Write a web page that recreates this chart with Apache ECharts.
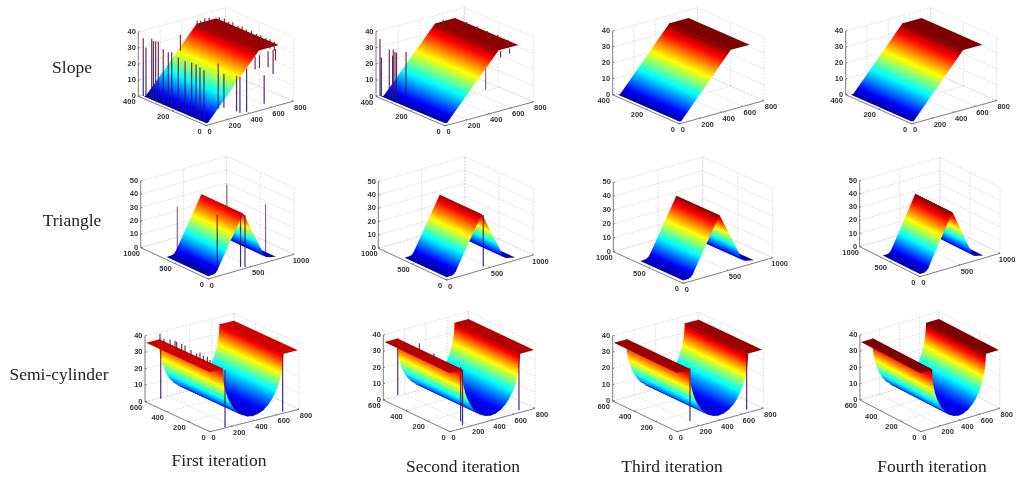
<!DOCTYPE html>
<html>
<head>
<meta charset="utf-8">
<style>
html,body{margin:0;padding:0;background:#fff;}
#chart{width:1026px;height:481px;filter:blur(0.45px);}
</style>
<script src="https://cdn.jsdelivr.net/npm/echarts@6/dist/echarts.min.js"></script>
</head>
<body>
<div id="chart"></div>
<script>
// ---------- values ----------
const rowNames = ['Slope', 'Triangle', 'Semi-cylinder'];
const iterationNames = ['First iteration', 'Second iteration', 'Third iteration', 'Fourth iteration'];

// surface profiles: height z along the x axis
const slopeX = [0, 20, 485, 665];
const slopeZ = [1.5, 1.5, 37.5, 37.5];
const triangleX = [0, 60, 85, 105, 395, 404, 415, 625, 650, 690, 790];
const triangleZ = [2, 2.2, 3, 4.5, 40.5, 41.5, 40.5, 10, 5.5, 3.5, 2];
const cylinderX = [0, 115, 117, 122, 130, 145, 165, 189, 219, 253, 293, 342, 387, 432, 481, 521, 555, 585, 609, 629, 644, 652, 657, 660, 790];
const cylinderZ = [36, 36, 32.1, 28.6, 25.2, 21, 17, 13.4, 10.1, 7.3, 5, 3.5, 3, 3.5, 5, 7.3, 10.1, 13.4, 17, 21, 25.2, 28.6, 32.1, 36, 36];

// extent of the surfaces along the y axis
const slopeY = [0, 368];
const triangleY = [0, 615];
const cylinderY = [0, 590];

// tick labels
const slopeXTicks = [0, 200, 400, 600, 800], slopeYTicks = [0, 200, 400], slopeZTicks = [0, 10, 20, 30, 40];
const triangleXTicks = [0, 500, 1000], triangleYTicks = [0, 500, 1000], triangleZTicks = [0, 10, 20, 30, 40, 50];
const cylinderXTicks = [0, 200, 400, 600, 800], cylinderYTicks = [0, 200, 400, 600], cylinderZTicks = [0, 10, 20, 30, 40];

// outliers: [x, y, zLow, zHigh]
const spikesSlope1 = [
  [30,390,0,36],[30,374,0,31],[30,340,0,38],[30,330,0,37],[30,317,0,37.5],[30,301,0,38],[30,272,0,34.5],
  [30,242,0,34],[30,222,0,35],[30,183,0,33.5],[30,143,0,33],[30,104,0,34],[30,78,0,34],[30,55,0,33],[30,31,0,32.5],
  [143,20,7,35],[195,20,6.5,27.7],[311,20,2,24],[342,20,0.6,23],[403,20,0,27],[564,20,2,19.7],
  [481,20,25,33],[521,20,25,33],[600,20,24,34],[646,20,19,34],[668,20,27,34],[200,280,30,40],
  [665,350,33,39],[665,320,33,39.5],[665,295,33,38.5],[665,270,33,39.5],[665,240,33,38.7],[665,215,33,39.3],[665,190,33,38.5],
  [665,160,33,39.1],[665,130,33,38.5],[665,105,33,38.9],[665,75,33,38.5],[665,50,33,38.8],[665,25,33,38.5],
  [600,368,33,39],[560,368,33,39.5],[520,368,33,38.7],[490,368,33,39.3]
];
const spikesSlope2 = [
  [30,396,0,35],[30,388,0,24],[30,342,0,31],[30,323,0,28],[30,319,0,32],[30,309,0,31],[30,300,0,31],[30,245,7,34],
  [665,300,33,38.1],[665,240,33,38.3],[665,180,33,38],[665,120,33,38.2],[665,60,33,37.9],[560,368,33,38.3],
  [520,10,32,36],[600,10,33,36]
];
const spikesSlopeBehind2 = [[399,20,14,28]];
const spikesTriangle1 = [[128,30,5,45],[400,30,1,40],[452,30,0,39]];
const spikesTriangleBehind1 = [[33,500,4,42],[690,600,10,44],[747,100,4,40]];
const spikesTriangle2 = [[446,30,1,39.6]];
const spikesCylinder1 = [
  [90,554,36,41],[90,517,36,39],[90,461,36,40.4],[90,415,36,41],[90,400,36,40.9],[90,354,36,40.9],[90,323,36,41],
  [90,268,36,39.8],[90,215,36,39.4],[90,185,36,40.8],[90,154,36,40],[90,117,36,40.4],[90,92,36,39.2],
  [5,460,6,36],[135,0,0.4,35],[653,0,1,36]
];
const spikesCylinder2 = [[5,475,7,36],[100,0,4.7,38],[118,0,2,36],[649,0,1.7,36],[90,362,36,41],[90,230,36,39]];
const spikesCylinder3 = [[118,0,4.5,37],[645,0,2,37]];
const noSpikes = [];

// ---------- layout (page pixels): left corner, front corner, right corner, height of the z axis ----------
const shapes = {
  slope: {x: slopeX, z: slopeZ, y: slopeY, xMax: 800, yMax: 400, zMax: 40, xT: slopeXTicks, yT: slopeYTicks, zT: slopeZTicks},
  triangle: {x: triangleX, z: triangleZ, y: triangleY, xMax: 1000, yMax: 1000, zMax: 50, xT: triangleXTicks, yT: triangleYTicks, zT: triangleZTicks},
  cylinder: {x: cylinderX, z: cylinderZ, y: cylinderY, xMax: 800, yMax: 600, zMax: 40, xT: cylinderXTicks, yT: cylinderYTicks, zT: cylinderZTicks}
};
const panels = [
  {s:'slope', L:[138.3,95], O:[206,125], R:[293.3,100], H:66, c:38.5, sp:spikesSlope1, bh:noSpikes},
  {s:'slope', L:[376,94.3], O:[445,125], R:[533.3,100], H:68, c:38, sp:spikesSlope2, bh:spikesSlopeBehind2},
  {s:'slope', L:[612.7,93.3], O:[679.3,123.3], R:[764,99.3], H:66, c:37.5, sp:noSpikes, bh:noSpikes},
  {s:'slope', L:[845.7,93.3], O:[911.7,123.3], R:[996.7,99.3], H:65.7, c:37.5, sp:noSpikes, bh:noSpikes},
  {s:'triangle', L:[140.7,247.7], O:[208.3,279], R:[294,254.3], H:66.7, c:45, sp:spikesTriangle1, bh:spikesTriangleBehind1},
  {s:'triangle', L:[378.3,248.3], O:[446.7,280], R:[533.3,255], H:66.7, c:43, sp:spikesTriangle2, bh:noSpikes},
  {s:'triangle', L:[613.3,251.7], O:[683.3,283.3], R:[772.7,257.7], H:69.3, c:42, sp:noSpikes, bh:noSpikes},
  {s:'triangle', L:[861.7,246.7], O:[926.7,276.7], R:[1013.3,253.3], H:66, c:41.5, sp:noSpikes, bh:noSpikes},
  {s:'cylinder', L:[145,401.7], O:[210,431.7], R:[299,409.3], H:66, c:39, sp:spikesCylinder1, bh:noSpikes},
  {s:'cylinder', L:[383.3,400], O:[450,431.7], R:[535,408.3], H:65, c:38, sp:spikesCylinder2, bh:noSpikes},
  {s:'cylinder', L:[612.7,401], O:[677.3,431.7], R:[763.3,408.3], H:65.3, c:37, sp:spikesCylinder3, bh:noSpikes},
  {s:'cylinder', L:[861.7,400], O:[926.7,431.7], R:[1011,408.3], H:65, c:36, sp:noSpikes, bh:noSpikes}
];
const rowLabelPos = [[72,68],[72,221],[59,375]];
const colLabelPos = [[219,461],[463,467],[672,467],[932,467]];

// ---------- jet colormap ----------
const jetKnots = [[0,[0,0,127]],[0.125,[0,0,255]],[0.375,[0,255,255]],[0.625,[255,255,0]],[0.875,[255,0,0]],[1,[127,0,0]]];
function jet(t){
  t = Math.max(0, Math.min(1, t));
  for (let i = 1; i < jetKnots.length; i++) {
    if (t <= jetKnots[i][0]) {
      const a = jetKnots[i-1], b = jetKnots[i], f = (t-a[0])/(b[0]-a[0]);
      const c = a[1].map((v,k)=>Math.round(v+(b[1][k]-v)*f));
      return 'rgb('+c.join(',')+')';
    }
  }
  return 'rgb(127,0,0)';
}
function jetStops(t0, t1){
  const st = [{offset:0, color:jet(t0)}];
  jetKnots.forEach(k=>{ if (k[0] > t0 && k[0] < t1) st.push({offset:(k[0]-t0)/(t1-t0), color:jet(k[0])}); });
  st.push({offset:1, color:jet(t1)});
  return st;
}
// outliers read as dark lines: navy at the floor, brown near the top
function spikeColor(t){
  t = Math.max(0, Math.min(1, t));
  const a = [20,20,150], b = [130,20,30];
  return 'rgb('+a.map((v,k)=>Math.round(v+(b[k]-v)*t)).join(',')+')';
}

// ---------- build option ----------
const grids = [], xAxes = [], yAxes = [], series = [];

panels.forEach((p, idx)=>{
  const sh = shapes[p.s];
  const proj = (x,y,z)=>[
    p.O[0] + (x/sh.xMax)*(p.R[0]-p.O[0]) + (y/sh.yMax)*(p.L[0]-p.O[0]),
    p.O[1] + (x/sh.xMax)*(p.R[1]-p.O[1]) + (y/sh.yMax)*(p.L[1]-p.O[1]) - (z/sh.zMax)*p.H
  ];
  const left = p.L[0]-28, right = p.R[0]+28, top = p.L[1]+p.R[1]-p.O[1]-p.H-8, bottom = p.O[1]+18;
  grids.push({left:left, top:top, width:right-left, height:bottom-top, containLabel:false});
  xAxes.push({type:'value', gridIndex:idx, min:left, max:right, show:false});
  yAxes.push({type:'value', gridIndex:idx, min:top, max:bottom, inverse:true, show:false});
  const base = {type:'custom', coordinateSystem:'cartesian2d', xAxisIndex:idx, yAxisIndex:idx, silent:true, animation:false, clip:false};

  // dotted grid on the two back walls and the floor
  const X = sh.xMax, Y = sh.yMax, Z = sh.zMax, wall = [];
  sh.zT.forEach(z=>{ wall.push([0,Y,z,X,Y,z]); wall.push([X,Y,z,X,0,z]); });
  sh.xT.forEach(x=>{ wall.push([x,Y,0,x,Y,Z]); wall.push([x,0,0,x,Y,0]); });
  sh.yT.forEach(y=>{ wall.push([X,y,0,X,y,Z]); wall.push([0,y,0,X,y,0]); });
  series.push(Object.assign({}, base, {
    data: wall,
    renderItem(params, api){
      const r = wall[params.dataIndex];
      const a = api.coord(proj(r[0],r[1],r[2])), b = api.coord(proj(r[3],r[4],r[5]));
      return {type:'line', shape:{x1:a[0],y1:a[1],x2:b[0],y2:b[1]}, style:{stroke:'#d4d4d4', lineWidth:0.7, lineDash:[2,1.2]}};
    }
  }));

  // solid axes and ticks
  const axesRows = [[0,Y,0,0,Y,Z],[0,Y,0,0,0,0],[0,0,0,X,0,0]];
  sh.zT.forEach(z=>axesRows.push([0,Y,z,X*0.02,Y,z]));
  sh.yT.forEach(y=>axesRows.push([0,y,0,X*0.02,y,0]));
  sh.xT.forEach(x=>axesRows.push([x,0,0,x,Y*0.02,0]));
  series.push(Object.assign({}, base, {
    data: axesRows,
    renderItem(params, api){
      const r = axesRows[params.dataIndex];
      const a = api.coord(proj(r[0],r[1],r[2])), b = api.coord(proj(r[3],r[4],r[5]));
      return {type:'line', shape:{x1:a[0],y1:a[1],x2:b[0],y2:b[1]}, style:{stroke:'#666', lineWidth:0.8}};
    }
  }));

  const spikeItem = (list, opacity) => function(params, api){
    const r = list[params.dataIndex];
    const a = api.coord(proj(r[0],r[1],r[2])), b = api.coord(proj(r[0],r[1],r[3]));
    return {type:'line', shape:{x1:a[0],y1:a[1],x2:b[0],y2:b[1]},
      style:{stroke:new echarts.graphic.LinearGradient(a[0],a[1],b[0],b[1],[
        {offset:0,color:spikeColor(r[2]/p.c)},{offset:1,color:spikeColor(r[3]/p.c)}],true), lineWidth:1.2, opacity:opacity}};
  };
  series.push(Object.assign({}, base, {data:p.bh, renderItem:spikeItem(p.bh,0.65)}));

  // surface strips, far to near; each strip runs a little under the next nearer one to hide seams
  const strips = [];
  for (let i = sh.x.length-2; i >= 0; i--) strips.push([sh.x[i],sh.z[i],sh.x[i+1],sh.z[i+1],i]);
  series.push(Object.assign({}, base, {
    data: strips,
    renderItem(params, api){
      const r = strips[params.dataIndex], y0 = sh.y[0], y1 = sh.y[1];
      const A = api.coord(proj(r[0],y0,r[1])), B = api.coord(proj(r[2],y0,r[3]));
      const C = api.coord(proj(r[2],y1,r[3])), D = api.coord(proj(r[0],y1,r[1]));
      let fill;
      if (Math.abs(r[1]-r[3]) < 1e-6) {
        fill = jet(r[1]/p.c);
      } else {
        // gradient runs across the strip, level lines stay parallel to the y axis
        const lo = r[1] < r[3] ? A : B, hi = r[1] < r[3] ? B : A;
        const dl = Math.hypot(D[0]-A[0], D[1]-A[1]), ux = (D[0]-A[0])/dl, uy = (D[1]-A[1])/dl;
        const vx = hi[0]-lo[0], vy = hi[1]-lo[1], dot = vx*ux+vy*uy;
        const px = vx-dot*ux, py = vy-dot*uy;
        const zl = Math.min(r[1],r[3])/p.c, zh = Math.max(r[1],r[3])/p.c;
        fill = new echarts.graphic.LinearGradient(lo[0],lo[1],lo[0]+px,lo[1]+py,jetStops(zl,zh),true);
      }
      let A2 = A, D2 = D;
      if (r[4] > 0) {
        const ex = A[0]-B[0], ey = A[1]-B[1], el = Math.hypot(ex,ey) || 1, k = 0.7/el;
        A2 = [A[0]+ex*k, A[1]+ey*k];
        D2 = [D[0]+ex*k, D[1]+ey*k];
      }
      return {type:'polygon', shape:{points:[A2,B,C,D2]}, style:{fill:fill}};
    }
  }));

  series.push(Object.assign({}, base, {data:p.sp, renderItem:spikeItem(p.sp,0.9)}));

  // tick labels: [x, y, z, value, kind]
  const labels = [];
  sh.zT.forEach(z=>labels.push([0,Y,z,z,0]));
  sh.yT.forEach(y=>labels.push([0,y,0,y,1]));
  sh.xT.forEach(x=>labels.push([x,0,0,x,2]));
  series.push(Object.assign({}, base, {
    data: labels,
    renderItem(params, api){
      const r = labels[params.dataIndex], a = api.coord(proj(r[0],r[1],r[2]));
      let dx, dy, align;
      if (r[4] === 0) { dx = -2.5; dy = 0; align = 'right'; }
      else if (r[4] === 1) { dx = r[3] === 0 ? -6.5 : -9; dy = 6; align = 'center'; }
      else { dx = r[3] === 0 ? 3.5 : 7; dy = 6.5; align = 'center'; }
      return {type:'text', x:a[0]+dx, y:a[1]+dy,
        style:{text:String(r[3]), fill:'#333', font:'600 7.5px "Liberation Sans", Arial, sans-serif', align:align, verticalAlign:'middle'}};
    }
  }));
});

const captions = [];
rowNames.forEach((t,i)=>captions.push({type:'text', x:rowLabelPos[i][0], y:rowLabelPos[i][1],
  style:{text:t, fill:'#222', font:'17.5px "Liberation Serif", serif', align:'center', verticalAlign:'middle'}}));
iterationNames.forEach((t,i)=>captions.push({type:'text', x:colLabelPos[i][0], y:colLabelPos[i][1],
  style:{text:t, fill:'#222', font:'17.5px "Liberation Serif", serif', align:'center', verticalAlign:'middle'}}));

const chart = echarts.init(document.getElementById('chart'), null, {renderer:'canvas'});
chart.setOption({
  backgroundColor:'#ffffff',
  animation:false,
  grid:grids, xAxis:xAxes, yAxis:yAxes,
  series:series,
  graphic:captions
});
</script>
</body>
</html>
